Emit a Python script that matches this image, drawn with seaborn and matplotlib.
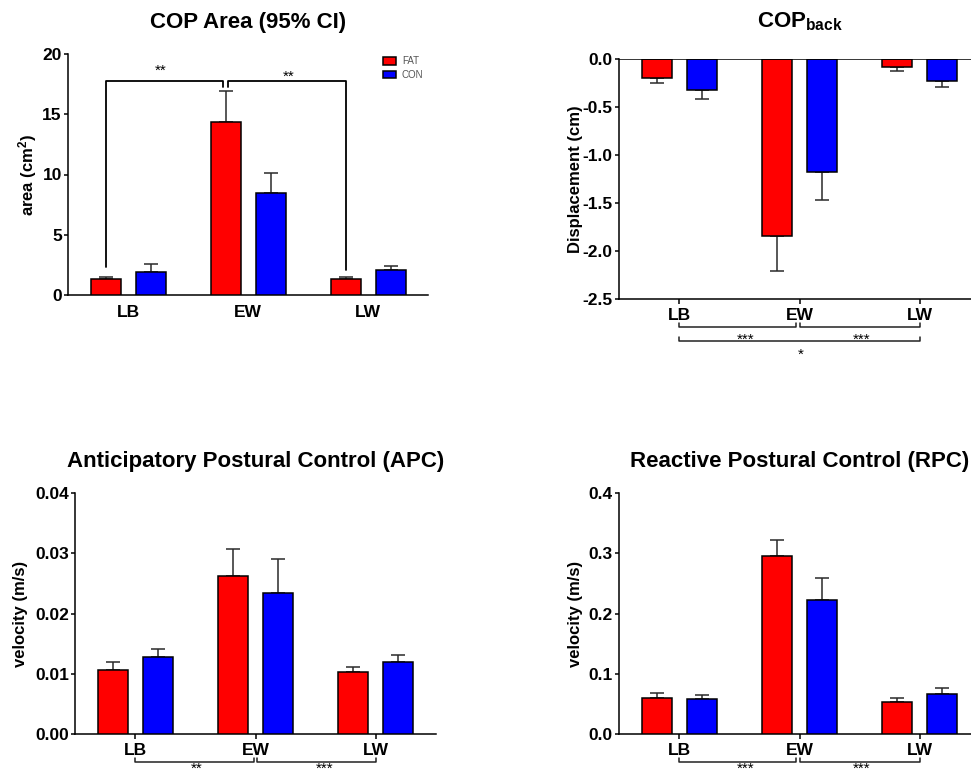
import numpy as np
import pandas as pd
import matplotlib
matplotlib.use("Agg")
import matplotlib.pyplot as plt
import seaborn as sns

# ---------------- data ----------------
groups = ["LB", "EW", "LW"]
conds = ["FAT", "CON"]

area_fat = [1.30, 14.35, 1.35]
area_fat_err = [0.20, 2.60, 0.15]
area_con = [1.95, 8.45, 2.05]
area_con_err = [0.60, 1.70, 0.35]

back_fat = [-0.20, -1.84, -0.085]
back_fat_err = [0.055, 0.37, 0.045]
back_con = [-0.32, -1.18, -0.23]
back_con_err = [0.10, 0.29, 0.06]

apc_fat = [0.0107, 0.0262, 0.0103]
apc_fat_err = [0.0012, 0.0045, 0.0008]
apc_con = [0.0128, 0.0235, 0.0119]
apc_con_err = [0.0014, 0.0056, 0.0012]

rpc_fat = [0.059, 0.296, 0.054]
rpc_fat_err = [0.009, 0.026, 0.006]
rpc_con = [0.058, 0.223, 0.067]
rpc_con_err = [0.007, 0.036, 0.010]

palette = {"FAT": "#ff0000", "CON": "#0000ff"}

# ---------------- style ----------------
sns.set_style("ticks")
plt.rcParams["font.family"] = ["Liberation Sans", "DejaVu Sans"]
plt.rcParams["font.weight"] = "bold"
plt.rcParams["axes.labelweight"] = "bold"
plt.rcParams["axes.titleweight"] = "bold"
for k in ("text.color", "axes.labelcolor", "xtick.color", "ytick.color"):
    plt.rcParams[k] = "black"
plt.rcParams["mathtext.fontset"] = "custom"
plt.rcParams["mathtext.rm"] = "Liberation Sans:bold"
plt.rcParams["mathtext.bf"] = "Liberation Sans:bold"
plt.rcParams["mathtext.default"] = "bf"

W, H = 971, 776
fig = plt.figure(figsize=(W / 100, H / 100), dpi=100)


def box(l, t, r, b):
    return [l / W, 1 - b / H, (r - l) / W, (b - t) / H]


ax1 = fig.add_axes(box(68, 54, 428, 295))
ax2 = fig.add_axes(box(619, 59, 980, 299))
ax3 = fig.add_axes(box(75, 493.3, 436, 734))
ax4 = fig.add_axes(box(619, 493.3, 980, 734))

ERRC = "#2a2a2a"


def draw(ax, fat, con, fat_err, con_err, legend=False):
    df = pd.DataFrame({
        "group": groups * 2,
        "cond": ["FAT"] * 3 + ["CON"] * 3,
        "value": list(fat) + list(con),
    })
    sns.barplot(data=df, x="group", y="value", hue="cond", order=groups,
                hue_order=conds, palette=palette, width=0.75, gap=1 / 3,
                saturation=1, edgecolor="black", linewidth=1.1,
                errorbar=None, legend=legend, ax=ax, zorder=3)
    for cont, errs in zip(ax.containers, [fat_err, con_err]):
        for rect, e in zip(cont, errs):
            x = rect.get_x() + rect.get_width() / 2
            v = rect.get_y() + rect.get_height()
            yerr = [[0], [e]] if v >= 0 else [[e], [0]]
            ax.errorbar([x], [v], yerr=yerr, fmt="none", ecolor=ERRC,
                        elinewidth=1.1, capsize=5, capthick=1.1, zorder=2)
    ax.set_xlim(-0.5, 2.5)
    ax.set_xlabel("")
    sns.despine(ax=ax)
    for s in ("left", "bottom"):
        ax.spines[s].set_linewidth(1.1)
        ax.spines[s].set_color("black")
    ax.tick_params(axis="y", labelsize=12.5, length=3, width=1.1, pad=1.5)
    ax.tick_params(axis="x", labelsize=12.5, length=3.5, width=1.1, pad=3)


# Panel 1
draw(ax1, area_fat, area_con, area_fat_err, area_con_err, legend=True)
ax1.set_ylim(0, 20)
ax1.set_yticks([0, 5, 10, 15, 20])
ax1.set_yticklabels(["0", "5", "10", "15", "20"])
ax1.tick_params(axis="x", length=0, pad=7)
ax1.set_ylabel(r"area (cm$^{2}$)", fontsize=12, labelpad=2)
ax1.set_title("COP Area (95% CI)", fontsize=16, pad=19)
h, l = ax1.get_legend_handles_labels()
ax1.legend(h, l, loc="upper left", bbox_to_anchor=(0.86, 1.015), frameon=False,
           prop={"size": 7, "weight": "normal"}, labelcolor="#555555",
           handlelength=1.3, handleheight=0.8, handletextpad=0.6,
           labelspacing=0.35, borderaxespad=0.2)
kw = dict(color="black", lw=1.3, clip_on=False)
ax1.plot([-0.1875, -0.1875, 0.79, 0.79], [2.35, 17.8, 17.8, 17.25], **kw)
ax1.plot([0.835, 0.835, 1.8125, 1.8125], [17.25, 17.8, 17.8, 2.1], **kw)
ax1.text(0.27, 18.05, "**", ha="center", va="bottom", fontsize=11, fontweight="normal")
ax1.text(1.34, 17.55, "**", ha="center", va="bottom", fontsize=11, fontweight="normal")

# Panel 2
draw(ax2, back_fat, back_con, back_fat_err, back_con_err)
ax2.set_ylim(-2.5, 0)
ax2.set_yticks([0, -0.5, -1.0, -1.5, -2.0, -2.5])
ax2.set_yticklabels(["0.0", "-0.5", "-1.0", "-1.5", "-2.0", "-2.5"])
ax2.axhline(0, color="black", lw=1.1, zorder=4)
ax2.set_ylabel("Displacement (cm)", fontsize=12, labelpad=0)
ax2.set_title(r"COP$_{\mathbf{back}}$", fontsize=16, pad=23)


def brackets(ax, rows, stars):
    tr = ax.get_xaxis_transform()
    for (x0, x1, y, yend) in rows:
        ax.plot([x0, x0, x1, x1], [yend, y, y, yend], color="#222222", lw=1.1,
                transform=tr, clip_on=False)
    for (x, y, s) in stars:
        ax.text(x, y, s, transform=tr, ha="center", va="baseline", fontsize=11,
                fontweight="normal", clip_on=False)


# star baselines (axes fraction): glyph sits ~0.7em above baseline
brackets(ax2,
         [(0, 0.967, -0.117, -0.099), (1.0, 2.0, -0.117, -0.099),
          (0, 2.0, -0.176, -0.158)],
         [(0.55, -0.185, "***"), (1.517, -0.185, "***"), (1.008, -0.248, "*")])

# Panel 3
draw(ax3, apc_fat, apc_con, apc_fat_err, apc_con_err)
ax3.set_ylim(0, 0.04)
ax3.set_yticks([0, 0.01, 0.02, 0.03, 0.04])
ax3.set_yticklabels(["0.00", "0.01", "0.02", "0.03", "0.04"])
ax3.set_ylabel("velocity (m/s)", fontsize=12, labelpad=5)
ax3.set_title("Anticipatory Postural Control (APC)", fontsize=16, pad=19)
brackets(ax3,
         [(0, 0.99, -0.115, -0.1), (1.01, 2.0, -0.115, -0.1)],
         [(0.514, -0.162, "**"), (1.575, -0.162, "***")])

# Panel 4
draw(ax4, rpc_fat, rpc_con, rpc_fat_err, rpc_con_err)
ax4.set_ylim(0, 0.4)
ax4.set_yticks([0, 0.1, 0.2, 0.3, 0.4])
ax4.set_yticklabels(["0.0", "0.1", "0.2", "0.3", "0.4"])
ax4.set_ylabel("velocity (m/s)", fontsize=12, labelpad=4)
ax4.set_title("Reactive Postural Control (RPC)", fontsize=16, pad=19)
brackets(ax4,
         [(0, 0.967, -0.115, -0.1), (1.0, 2.0, -0.115, -0.1)],
         [(0.55, -0.162, "***"), (1.517, -0.162, "***")])

fig.savefig("out.png", dpi=100)
